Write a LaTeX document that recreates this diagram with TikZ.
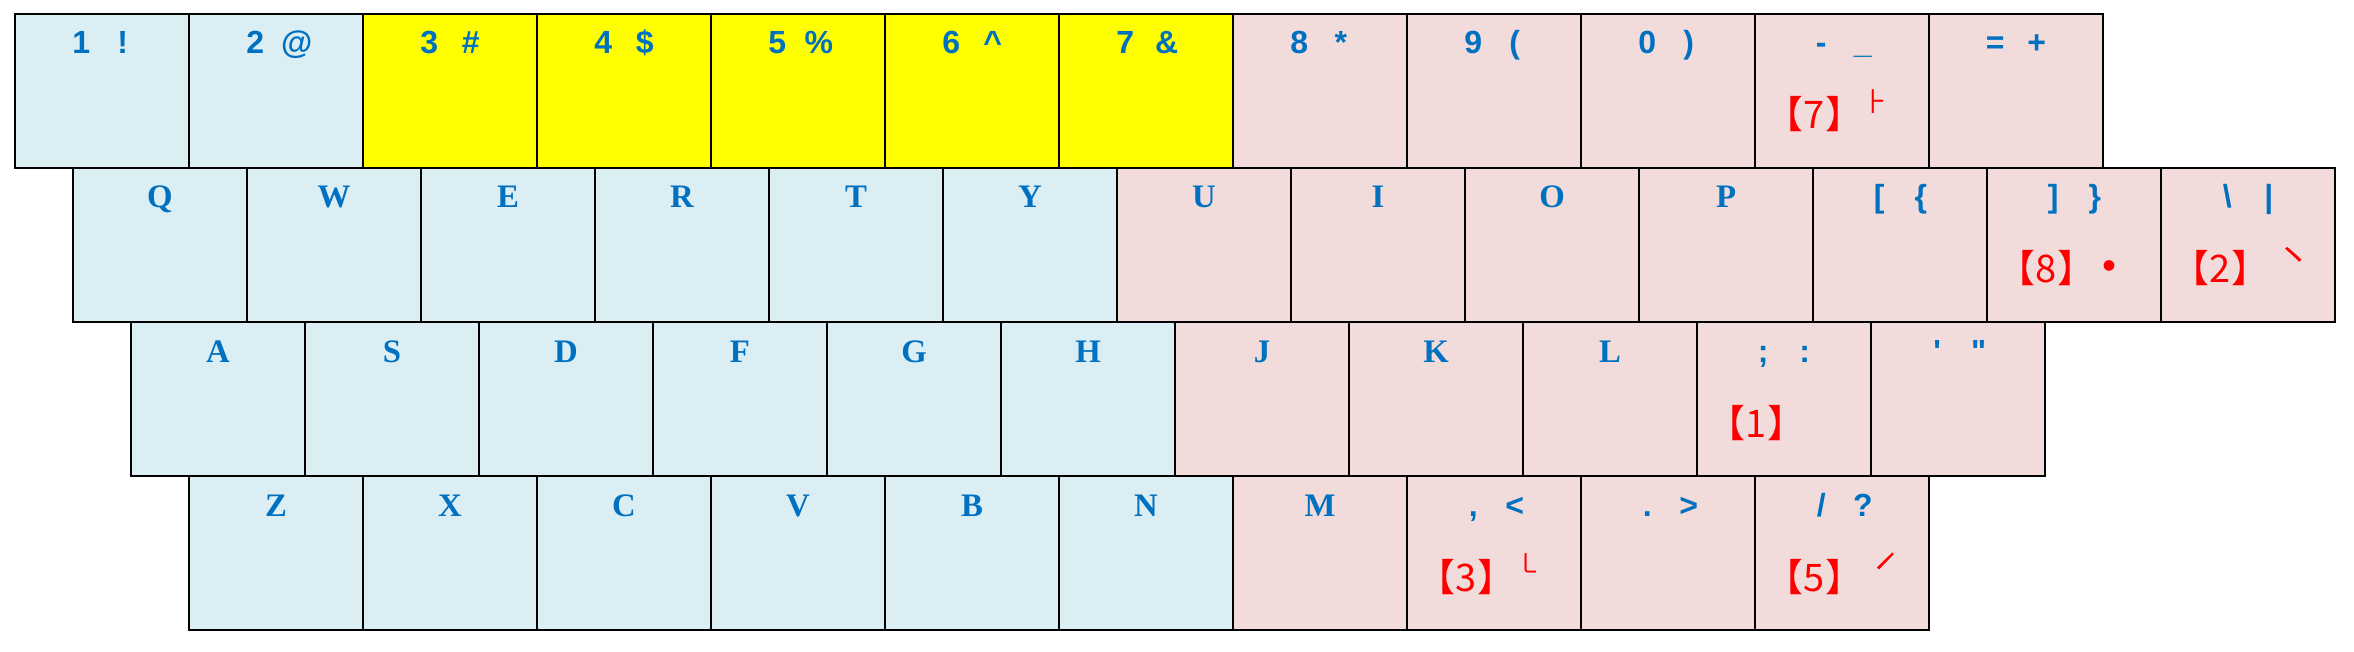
\documentclass[tikz,border=0pt]{standalone}
\usepackage{fontspec}
\usepackage{tikz}
\usetikzlibrary{positioning}
\newfontfamily\keysans{Liberation Sans}
\newfontfamily\keyserif{Liberation Serif}
\newfontfamily\keycjk{Noto Sans CJK SC}
\definecolor{keyblue}{HTML}{DAEEF3}
\definecolor{keypink}{HTML}{F2DCDB}
\definecolor{keyyellow}{HTML}{FFFF00}
\definecolor{labelblue}{HTML}{0070C0}
\definecolor{labelred}{HTML}{FF0000}
\newcommand{\keypair}[2]{\makebox[1.3em]{#1}\makebox[1.3em]{#2}}
\tikzset{
  key/.style={draw, line width=0.9pt, inner sep=0pt, outer sep=0pt,
    text width=87pt, align=center, text height=20pt, text depth=57pt,
    text=labelblue, font=\keysans\bfseries\fontsize{16}{16}\selectfont},
  lkey/.style={fill=keyblue},
  ykey/.style={fill=keyyellow},
  rkey/.style={fill=keypink},
  letter/.style={font=\keyserif\bfseries\fontsize{16.4}{16}\selectfont},
  strokenum/.style={anchor=base, inner sep=0pt, text=labelred,
    font=\keycjk\fontsize{19}{19}\selectfont},
  strokemark/.style={inner sep=0pt, text=labelred,
    font=\keycjk\fontsize{13}{13}\selectfont}
}

\begin{document}
\begin{tikzpicture}[node distance=0pt]

    % Number row
    \node (k1) [key, lkey, anchor=north west] at (0,0) {\keypair{1}{!}};
    \node (k2) [key, lkey, right=of k1] {\keypair{2}{@}};
    \node (k3) [key, ykey, right=of k2] {\keypair{3}{\#}};
    \node (k4) [key, ykey, right=of k3] {\keypair{4}{\$}};
    \node (k5) [key, ykey, right=of k4] {\keypair{5}{\%}};
    \node (k6) [key, ykey, right=of k5] {\keypair{6}{\textasciicircum}};
    \node (k7) [key, ykey, right=of k6] {\keypair{7}{\&}};
    \node (k8) [key, rkey, right=of k7] {\keypair{8}{*}};
    \node (k9) [key, rkey, right=of k8] {\keypair{9}{(}};
    \node (k0) [key, rkey, right=of k9] {\keypair{0}{)}};
    \node (kminus) [key, rkey, right=of k0] {\keypair{-}{\_}};
    \node (kequal) [key, rkey, right=of kminus] {\keypair{=}{+}};

    % Upper row
    \node (kQ) [key, lkey, letter, below right=0pt and 29pt of k1.south west] {Q};
    \node (kW) [key, lkey, letter, right=of kQ] {W};
    \node (kE) [key, lkey, letter, right=of kW] {E};
    \node (kR) [key, lkey, letter, right=of kE] {R};
    \node (kT) [key, lkey, letter, right=of kR] {T};
    \node (kY) [key, lkey, letter, right=of kT] {Y};
    \node (kU) [key, rkey, letter, right=of kY] {U};
    \node (kI) [key, rkey, letter, right=of kU] {I};
    \node (kO) [key, rkey, letter, right=of kI] {O};
    \node (kP) [key, rkey, letter, right=of kO] {P};
    \node (klbrack) [key, rkey, right=of kP] {\keypair{[}{\{}};
    \node (krbrack) [key, rkey, right=of klbrack] {\keypair{]}{\}}};
    \node (kbslash) [key, rkey, right=of krbrack] {\keypair{\textbackslash}{|}};

    % Home row
    \node (kA) [key, lkey, letter, below right=0pt and 29pt of kQ.south west] {A};
    \node (kS) [key, lkey, letter, right=of kA] {S};
    \node (kD) [key, lkey, letter, right=of kS] {D};
    \node (kF) [key, lkey, letter, right=of kD] {F};
    \node (kG) [key, lkey, letter, right=of kF] {G};
    \node (kH) [key, lkey, letter, right=of kG] {H};
    \node (kJ) [key, rkey, letter, right=of kH] {J};
    \node (kK) [key, rkey, letter, right=of kJ] {K};
    \node (kL) [key, rkey, letter, right=of kK] {L};
    \node (ksemi) [key, rkey, right=of kL] {\keypair{;}{:}};
    \node (kquote) [key, rkey, right=of ksemi] {\keypair{\textquotesingle}{\textquotedbl}};

    % Lower row
    \node (kZ) [key, lkey, letter, below right=0pt and 29pt of kA.south west] {Z};
    \node (kX) [key, lkey, letter, right=of kZ] {X};
    \node (kC) [key, lkey, letter, right=of kX] {C};
    \node (kV) [key, lkey, letter, right=of kC] {V};
    \node (kB) [key, lkey, letter, right=of kV] {B};
    \node (kN) [key, lkey, letter, right=of kB] {N};
    \node (kM) [key, rkey, letter, right=of kN] {M};
    \node (kcomma) [key, rkey, right=of kM] {\keypair{,}{<}};
    \node (kperiod) [key, rkey, right=of kcomma] {\keypair{.}{>}};
    \node (kslash) [key, rkey, right=of kperiod] {\keypair{/}{?}};

    % Stroke codes
    \node (n1) [strokenum] at ([shift={(29.75pt,19.5pt)}]ksemi.south west) {【1】};
    \node (n2) [strokenum] at ([shift={(29.75pt,19.5pt)}]kbslash.south west) {【2】};
    \node (s2) [strokemark, font=\keycjk\fontsize{18}{18}\selectfont] at ([shift={(66.25pt,31.75pt)}]kbslash.south west) {㇔};
    \node (n3) [strokenum] at ([shift={(29.75pt,19.5pt)}]kcomma.south west) {【3】};
    \node (s3) [strokemark] at ([shift={(61pt,33.25pt)}]kcomma.south west) {㇄};
    \node (n5) [strokenum] at ([shift={(29.75pt,19.5pt)}]kslash.south west) {【5】};
    \node (s5) [strokemark, rotate=30, font=\keycjk\fontsize{17}{17}\selectfont] at ([shift={(66.25pt,32.25pt)}]kslash.south west) {㇀};
    \node (n7) [strokenum] at ([shift={(29.75pt,19.5pt)}]kminus.south west) {【7】};
    \node (s7) [strokemark] at ([shift={(60.25pt,33.25pt)}]kminus.south west) {⺊};
    \node (n8) [strokenum] at ([shift={(29.75pt,19.5pt)}]krbrack.south west) {【8】};
    \node (s8) [strokemark, font=\keycjk\fontsize{6}{6}\selectfont] at ([shift={(61pt,28.15pt)}]krbrack.south west) {●};

    \useasboundingbox (-7.5pt,7pt) rectangle (1169.5pt,-319pt);

\end{tikzpicture}
\end{document}
